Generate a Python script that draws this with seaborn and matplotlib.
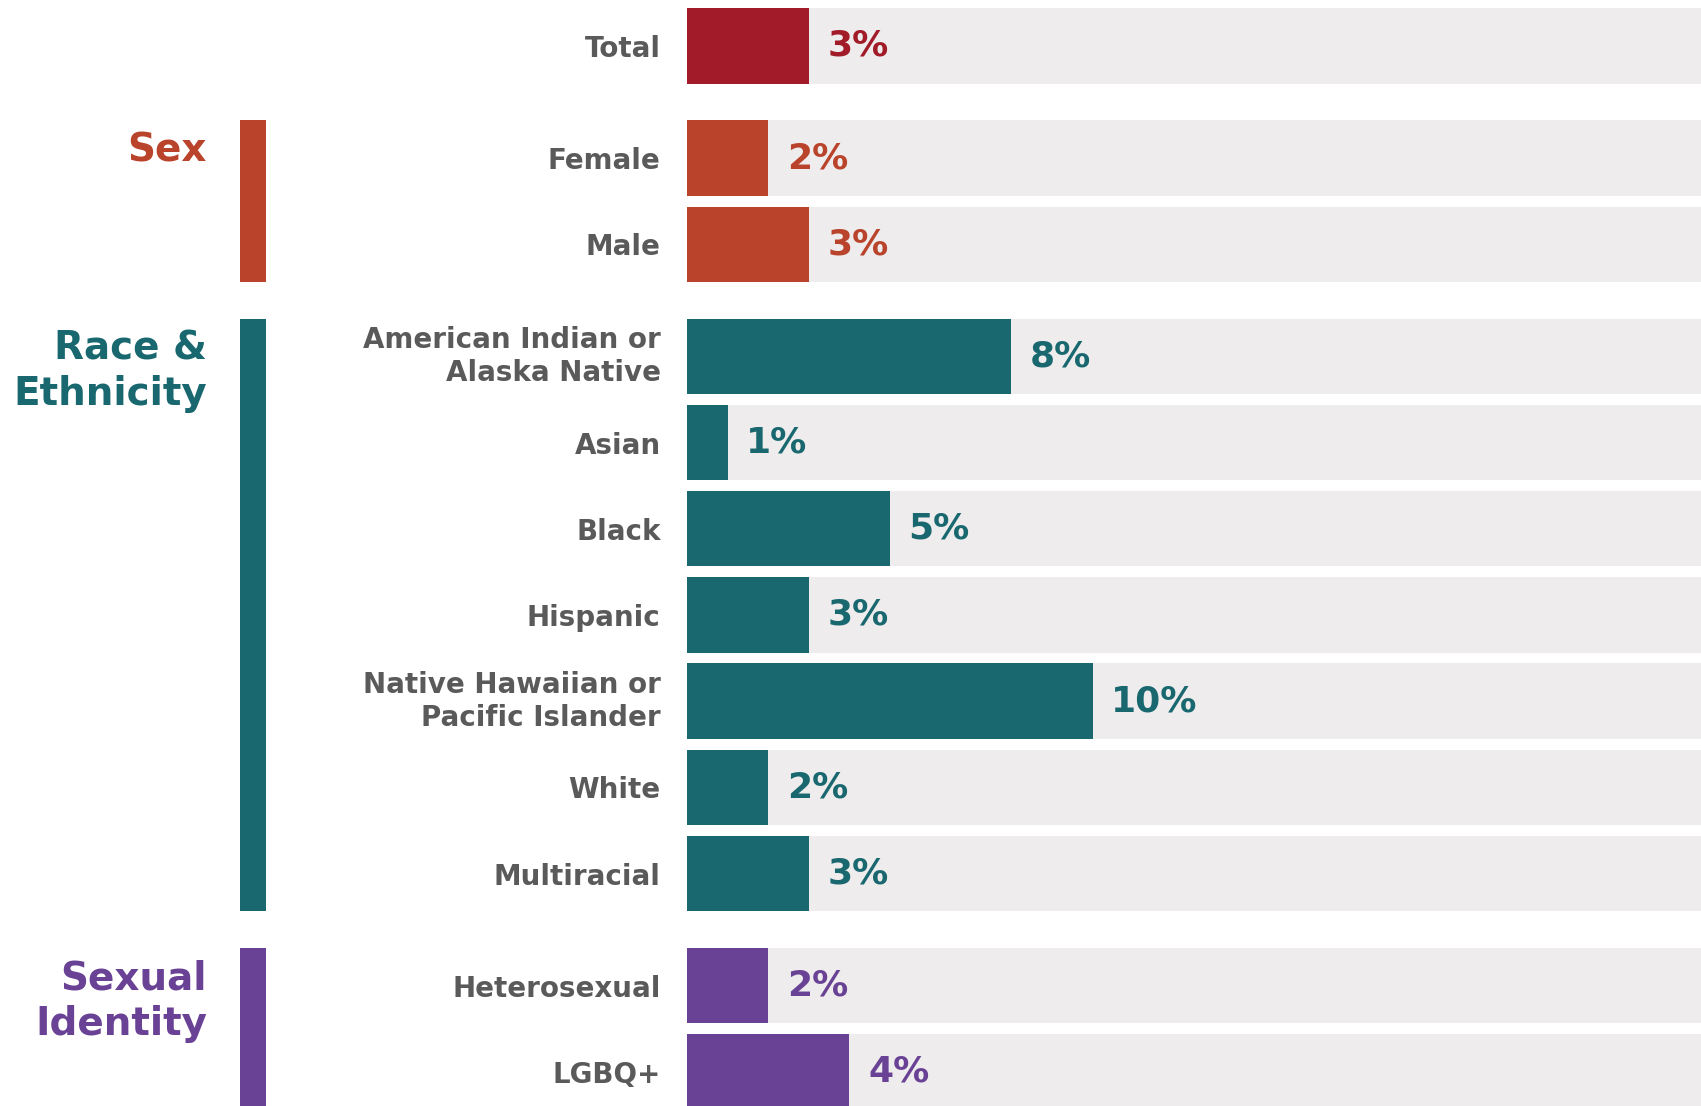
import numpy as np
import pandas as pd
import matplotlib
matplotlib.use("Agg")
import matplotlib.pyplot as plt
from matplotlib.patches import Rectangle
import matplotlib.transforms as mtransforms
import seaborn as sns

# ---- data ----
labels = ["Total", "Female", "Male",
          "American Indian or\nAlaska Native", "Asian", "Black", "Hispanic",
          "Native Hawaiian or\nPacific Islander", "White", "Multiracial",
          "Heterosexual", "LGBQ+"]
values = [3, 2, 3, 8, 1, 5, 3, 10, 2, 3, 2, 4]
groups = ["Total", "Sex", "Sex",
          "Race", "Race", "Race", "Race", "Race", "Race", "Race",
          "Sexual", "Sexual"]
group_order = ["Total", "Sex", "Race", "Sexual"]
group_titles = {"Sex": "Sex", "Race": "Race &\nEthnicity", "Sexual": "Sexual\nIdentity"}
group_colors = {"Total": "#A11B28", "Sex": "#B9432B", "Race": "#19676F", "Sexual": "#6A4295"}
XMAX = 25

# ---- layout ----
W, H, DPI = 1701, 1106, 100
GAP = 0.3
BAR_W = 0.875
LABEL_GRAY = "#5A5A5A"
BG_GRAY = "#EEECEC"
FONT = "DejaVu Sans"

gidx = [group_order.index(g) for g in groups]
pos = [i + GAP * g for i, g in enumerate(gidx)]
df = pd.DataFrame({"label": labels, "value": values, "group": groups, "pos": pos,
                   "bg": [XMAX] * len(values)})

sns.set_theme(style="white")
plt.rcParams["font.family"] = [FONT]

fig = plt.figure(figsize=(W / DPI, H / DPI), dpi=DPI)
ax_left = 687 / W
ax = fig.add_axes([ax_left, 0, 1 - ax_left, 1])

# background track bars
sns.barplot(data=df, x="bg", y="pos", orient="h", native_scale=True,
            color=BG_GRAY, saturation=1, width=BAR_W, errorbar=None,
            linewidth=0, ax=ax)
# value bars
sns.barplot(data=df, x="value", y="pos", orient="h", native_scale=True,
            hue="group", hue_order=group_order, palette=group_colors,
            saturation=1, width=BAR_W, errorbar=None, dodge=False,
            legend=False, linewidth=0, ax=ax)

# value labels
for c, g in zip(ax.containers[1:], group_order):
    ax.bar_label(c, fmt="%g%%", padding=13.5, color=group_colors[g],
                 fontsize=26, fontweight="bold", family=FONT)

px_per_unit = 86.2
top_units = 46 / px_per_unit
ax.set_ylim((H - 46) / px_per_unit, -top_units)
ax.set_xlim(0, XMAX)

ax.set_yticks(pos)
ax.set_yticklabels(labels)
ax.tick_params(axis="y", length=0, pad=19)
for t in ax.get_yticklabels():
    t.set_fontsize(20)
    t.set_fontweight("bold")
    t.set_color(LABEL_GRAY)
    t.set_linespacing(1.22)
    t.set_family(FONT)
    if "\n" in t.get_text():
        t.set_verticalalignment("center")
ax.set_xticks([])
ax.set_xlabel("")
ax.set_ylabel("")
for s in ax.spines.values():
    s.set_visible(False)

# group strips and titles
trans = mtransforms.blended_transform_factory(fig.transFigure, ax.transData)
strip_x0 = 240 / W
strip_w = 26 / W
for g in ["Sex", "Race", "Sexual"]:
    gp = [p for p, gg in zip(pos, groups) if gg == g]
    y0 = min(gp) - BAR_W / 2
    y1 = max(gp) + BAR_W / 2
    ax.add_patch(Rectangle((strip_x0, y0), strip_w, y1 - y0, transform=trans,
                           facecolor=group_colors[g], clip_on=False, lw=0))
    ax.text(207 / W, y0 + 0.13, group_titles[g], transform=trans, ha="right",
            va="top", fontsize=28, fontweight="bold", color=group_colors[g],
            linespacing=1.25, family=FONT)

fig.savefig("out.png", dpi=DPI, facecolor="white")
